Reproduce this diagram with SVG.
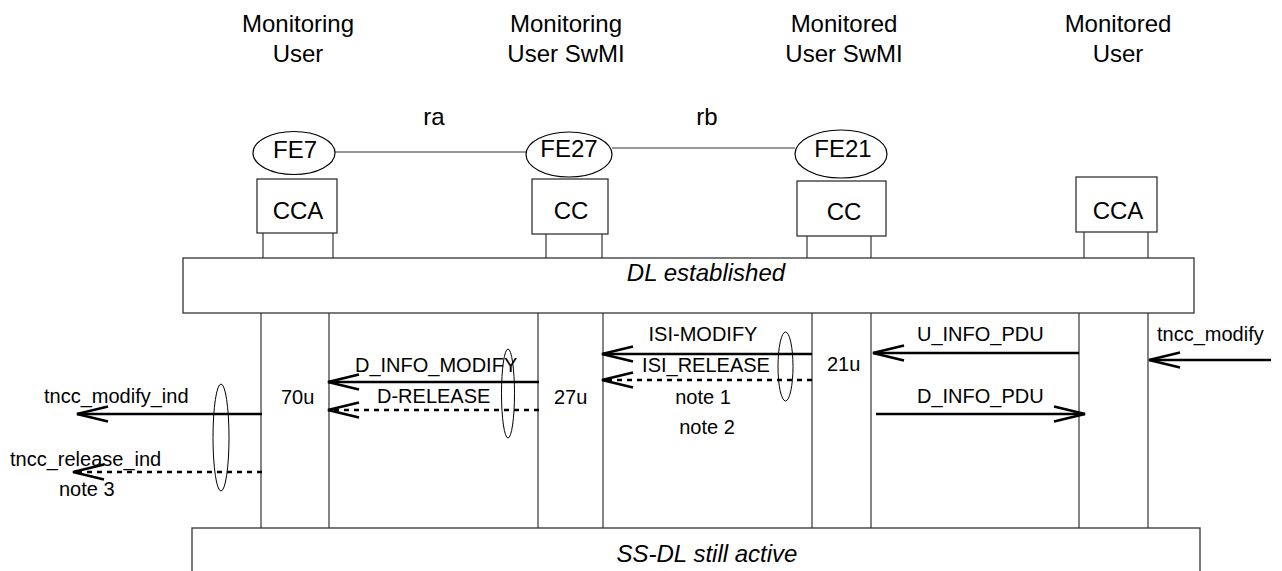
<svg xmlns="http://www.w3.org/2000/svg" width="1282" height="571" viewBox="0 0 1282 571">
<style>
text{font-family:"Liberation Sans",Arial,sans-serif;fill:#000}
.h{font-size:24px;text-anchor:middle}
.l{font-size:20px}
.c{font-size:20px;text-anchor:middle}
.it{font-size:24px;font-style:italic;text-anchor:middle}
.box{fill:#fff;stroke:#333;stroke-width:1.3}
.fe{fill:#fff;stroke:#000;stroke-width:1.2}
.thin{fill:none;stroke:#333;stroke-width:1.2}
.msg{fill:none;stroke:#000;stroke-width:2.6;marker-end:url(#ah)}
.dash{stroke-dasharray:5 5}
.ov{fill:none;stroke:#000;stroke-width:1}
</style>
<defs>
<marker id="ah" viewBox="-34 -10 36 20" refX="0" refY="0" markerWidth="36" markerHeight="20" markerUnits="userSpaceOnUse" orient="auto">
<path d="M-31,-7.5 L0,0 L-31,7.5" fill="none" stroke="#000" stroke-width="2.6" stroke-dasharray="none"/>
</marker>
</defs>

<g id="headers">
<text class="h" x="298" y="32">Monitoring</text>
<text class="h" x="298" y="62">User</text>
<text class="h" x="566" y="32">Monitoring</text>
<text class="h" x="566" y="62">User SwMI</text>
<text class="h" x="844" y="32">Monitored</text>
<text class="h" x="844" y="62">User SwMI</text>
<text class="h" x="1118" y="32">Monitored</text>
<text class="h" x="1118" y="62">User</text>
</g>

<g id="relations">
<line class="thin" x1="335" y1="152" x2="526" y2="152"/>
<line class="thin" x1="612" y1="148" x2="795" y2="148" stroke="#555"/>
<text class="h" x="434" y="125">ra</text>
<text class="h" x="707" y="125">rb</text>
</g>

<g id="fe7">
<ellipse class="fe" cx="294" cy="153" rx="41" ry="21.5"/>
<text class="h" x="295" y="158">FE7</text>
</g>
<g id="fe27">
<ellipse class="fe" cx="569" cy="154.5" rx="43" ry="22.5" stroke-width="2"/>
<text class="h" x="569" y="157">FE27</text>
</g>
<g id="fe21">
<ellipse class="fe" cx="841" cy="154" rx="46" ry="24"/>
<text class="h" x="843" y="157">FE21</text>
</g>

<g id="cca1">
<rect class="box" x="257" y="179" width="80" height="54"/>
<text class="h" x="298" y="219">CCA</text>
<line class="thin" x1="263" y1="233" x2="263" y2="258"/>
<line class="thin" x1="333" y1="233" x2="333" y2="258"/>
</g>
<g id="cc1">
<rect class="box" x="532" y="179" width="76" height="55"/>
<text class="h" x="571" y="219">CC</text>
<line class="thin" x1="546" y1="234" x2="546" y2="258"/>
<line class="thin" x1="602" y1="234" x2="602" y2="258"/>
</g>
<g id="cc2">
<rect class="box" x="797" y="181" width="89" height="55"/>
<text class="h" x="844" y="220">CC</text>
<line class="thin" x1="807" y1="236" x2="807" y2="258"/>
<line class="thin" x1="871" y1="236" x2="871" y2="258"/>
</g>
<g id="cca2">
<rect class="box" x="1076" y="177" width="81" height="55"/>
<text class="h" x="1118" y="219">CCA</text>
<line class="thin" x1="1084" y1="232" x2="1084" y2="258"/>
<line class="thin" x1="1148" y1="232" x2="1148" y2="258"/>
</g>

<g id="dl-established">
<rect class="box" x="183" y="258" width="1011" height="55"/>
<text class="it" x="706" y="281">DL established</text>
</g>

<g id="lifelines">
<line class="thin" x1="261" y1="313" x2="261" y2="528"/>
<line class="thin" x1="329" y1="313" x2="329" y2="528"/>
<line class="thin" x1="538" y1="313" x2="538" y2="528"/>
<line class="thin" x1="603" y1="313" x2="603" y2="528"/>
<line class="thin" x1="812" y1="313" x2="812" y2="528"/>
<line class="thin" x1="871" y1="313" x2="871" y2="528"/>
<line class="thin" x1="1079" y1="313" x2="1079" y2="528"/>
<line class="thin" x1="1148" y1="313" x2="1148" y2="528"/>
</g>

<g id="ss-dl-active">
<rect class="box" x="192" y="528" width="1008" height="60"/>
<text class="it" x="707" y="562">SS-DL still active</text>
</g>

<g id="connectors">
<line class="msg" x1="262" y1="414" x2="77" y2="414"/>
<line class="msg dash" x1="262" y1="472" x2="73" y2="472"/>
<line class="msg" x1="539" y1="382" x2="328" y2="382"/>
<line class="msg dash" x1="539" y1="410" x2="328" y2="410"/>
<line class="msg" x1="812" y1="354" x2="602" y2="354"/>
<line class="msg dash" x1="812" y1="380" x2="602" y2="380"/>
<line class="msg" x1="1079" y1="353" x2="873" y2="353"/>
<line class="msg" x1="876" y1="414" x2="1085" y2="414"/>
<line class="msg" x1="1271" y1="360" x2="1149" y2="360"/>
<ellipse class="ov" cx="221" cy="437.5" rx="8" ry="53.5"/>
<ellipse class="ov" cx="508" cy="393.5" rx="6.5" ry="44.5"/>
<ellipse class="ov" cx="785.5" cy="366.5" rx="7.5" ry="34.5"/>
</g>

<g id="labels">
<text class="l" x="44" y="403">tncc_modify_ind</text>
<text class="l" x="10" y="466">tncc_release_ind</text>
<text class="l" x="59" y="496">note 3</text>
<text class="l" x="281" y="404">70u</text>
<text class="l" x="355" y="372">D_INFO_MODIFY</text>
<text class="l" x="377" y="403">D-RELEASE</text>
<text class="l" x="554" y="404">27u</text>
<text class="c" x="703" y="341">ISI-MODIFY</text>
<text class="c" x="706" y="372">ISI_RELEASE</text>
<text class="c" x="703" y="404">note 1</text>
<text class="c" x="707" y="434">note 2</text>
<text class="l" x="827" y="371">21u</text>
<text class="l" x="917" y="341">U_INFO_PDU</text>
<text class="l" x="917" y="403">D_INFO_PDU</text>
<text class="l" x="1157" y="341">tncc_modify</text>
</g>
</svg>
